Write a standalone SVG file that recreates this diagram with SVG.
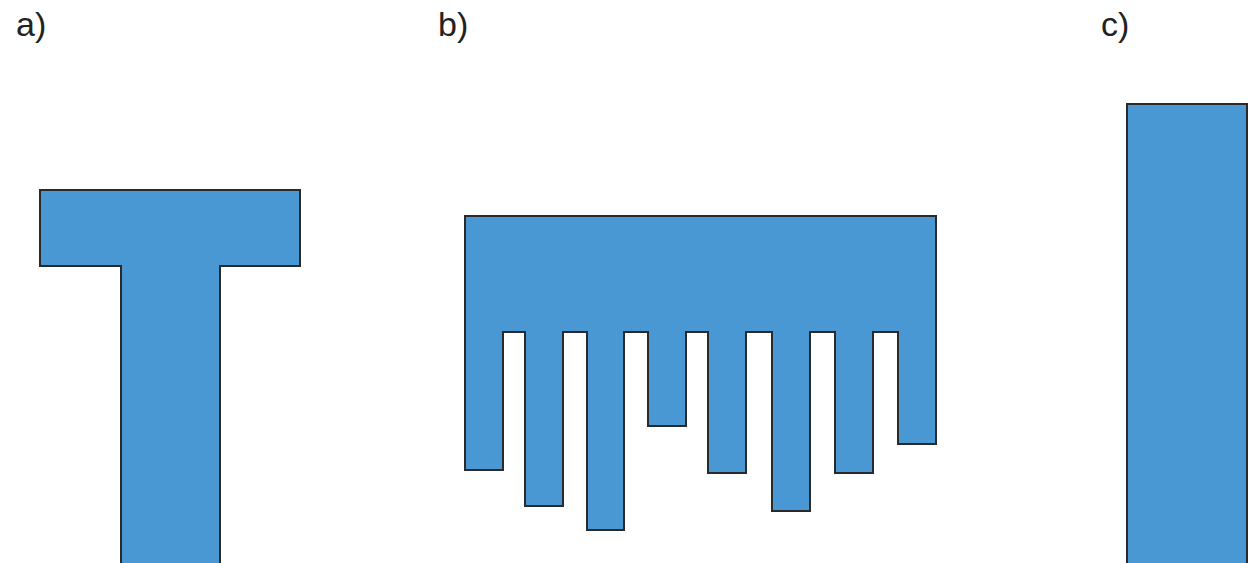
<svg xmlns="http://www.w3.org/2000/svg" width="1254" height="563" viewBox="0 0 1254 563">
<style>
.shape{fill:#4a98d3;stroke:#2a2a2a;stroke-width:2;stroke-linejoin:miter}
.lbl{font-family:"Liberation Sans",Arial,sans-serif;font-size:34px;fill:#222}
</style>
<rect width="1254" height="563" fill="#fff"/>
<g id="a">
<text class="lbl" x="16" y="36">a)</text>
<path class="shape" d="M40,190 H300 V266 H220 V566 H121 V266 H40 Z"/>
</g>
<g id="b">
<text class="lbl" x="438" y="36">b)</text>
<path class="shape" d="M465,216 H936 V444 H898 V332 H873 V473 H835 V332 H810 V511 H772 V332 H746 V473 H708 V332 H686 V426 H648 V332 H624 V530 H587 V332 H563 V506 H525 V332 H503 V470 H465 Z"/>
</g>
<g id="c">
<text class="lbl" x="1101" y="36">c)</text>
<path class="shape" d="M1127,104 H1247 V566 H1127 Z"/>
</g>
<g id="connectors"></g>
</svg>
